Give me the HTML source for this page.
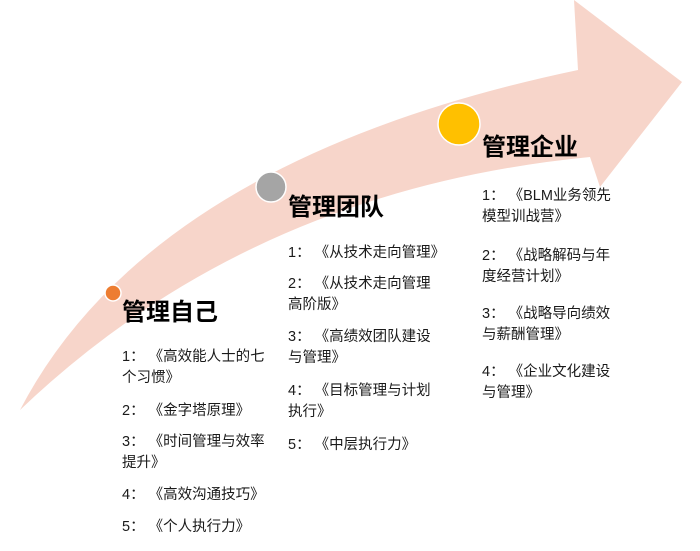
<!DOCTYPE html>
<html><head><meta charset="utf-8">
<style>
html,body{margin:0;padding:0;background:#fff;}
#c{position:relative;width:700px;height:551px;overflow:hidden;font-family:"Liberation Sans","Noto Sans CJK SC",sans-serif;color:#1a1a1a;}
.h{position:absolute;font-size:24px;font-weight:bold;color:#000;line-height:28px;white-space:nowrap;}
.t{position:absolute;font-size:14.5px;line-height:21px;white-space:nowrap;}
</style></head><body><div id="c">
<svg width="700" height="551" style="position:absolute;left:0;top:0">
<path d="M20,410 Q150,160 578,70 L574,0 L682,82 L600,187 L590,157 Q250,190 20,410 Z" fill="#f7d5ca"/>
<circle cx="113" cy="293" r="8" fill="#ed7d31" stroke="#fff" stroke-width="1.5"/>
<circle cx="271" cy="187" r="15" fill="#a5a5a5" stroke="#fff" stroke-width="1.5"/>
<circle cx="459" cy="124" r="21" fill="#ffc000" stroke="#fff" stroke-width="1.5"/>
</svg>
<div class="h" style="left:122px;top:299px">管理自己</div>
<div class="t" style="left:122px;top:347px">1： 《高效能人士的七<br>个习惯》</div>
<div class="t" style="left:122px;top:401px">2： 《金字塔原理》</div>
<div class="t" style="left:122px;top:432px">3： 《时间管理与效率<br>提升》</div>
<div class="t" style="left:122px;top:485px">4： 《高效沟通技巧》</div>
<div class="t" style="left:122px;top:517px">5： 《个人执行力》</div>

<div class="h" style="left:288px;top:194px">管理团队</div>
<div class="t" style="left:288px;top:243px">1： 《从技术走向管理》</div>
<div class="t" style="left:288px;top:274px">2： 《从技术走向管理<br>高阶版》</div>
<div class="t" style="left:288px;top:327px">3： 《高绩效团队建设<br>与管理》</div>
<div class="t" style="left:288px;top:381px">4： 《目标管理与计划<br>执行》</div>
<div class="t" style="left:288px;top:435px">5： 《中层执行力》</div>

<div class="h" style="left:482px;top:134px">管理企业</div>
<div class="t" style="left:482px;top:186px">1： 《BLM业务领先<br>模型训战营》</div>
<div class="t" style="left:482px;top:246px">2： 《战略解码与年<br>度经营计划》</div>
<div class="t" style="left:482px;top:304px">3： 《战略导向绩效<br>与薪酬管理》</div>
<div class="t" style="left:482px;top:362px">4： 《企业文化建设<br>与管理》</div>
</div></body></html>
